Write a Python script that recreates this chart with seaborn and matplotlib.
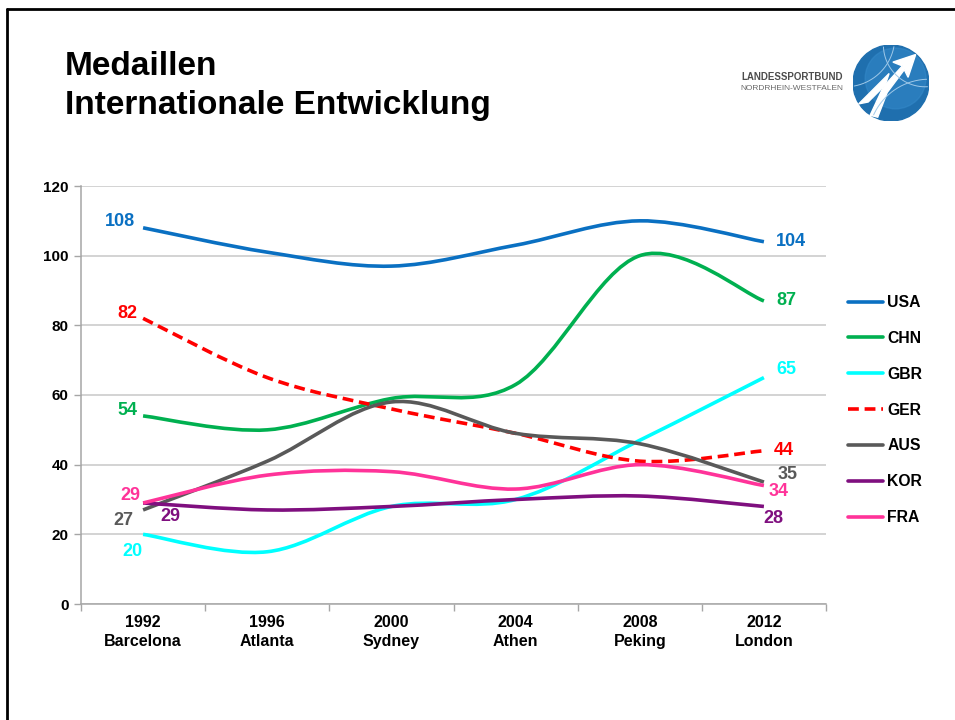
import matplotlib
matplotlib.use("Agg")
import matplotlib.pyplot as plt
import seaborn as sns
import numpy as np
import pandas as pd
from matplotlib.path import Path
from matplotlib.patches import PathPatch, Circle, Polygon
from matplotlib.lines import Line2D

# Daten (Medaillen je Spiele)
spiele = ["1992\nBarcelona", "1996\nAtlanta", "2000\nSydney", "2004\nAthen",
          "2008\nPeking", "2012\nLondon"]
laender = ["USA", "CHN", "GBR", "GER", "AUS", "KOR", "FRA"]
usa = [108, 101, 97, 103, 110, 104]
chn = [54, 50, 59, 63, 100, 87]
gbr = [20, 15, 28, 30, 47, 65]
ger = [82, 65, 56, 49, 41, 44]
aus = [27, 41, 58, 49, 46, 35]
kor = [29, 27, 28, 30, 31, 28]
fra = [29, 37, 38, 33, 40, 34]

farben = {"USA": "#0a70c2", "CHN": "#00b050", "GBR": "#00ffff", "GER": "#ff0000",
          "AUS": "#595959", "KOR": "#7f0f7f", "FRA": "#ff3399"}

# Versatz der Beschriftungen (Pixel) am Anfang und Ende
start_off = {"USA": (-23, 6), "CHN": (-16, 5), "GBR": (-11, -17), "GER": (-16, 5),
             "AUS": (-20, -11), "KOR": (27, -14), "FRA": (-13, 7)}
ende_off = {"USA": (27, 0), "CHN": (22, 0), "GBR": (22, 8), "GER": (20, 0),
            "AUS": (24, 8), "KOR": (9, -12), "FRA": (15, -6)}

df = pd.DataFrame({"USA": usa, "CHN": chn, "GBR": gbr, "GER": ger,
                   "AUS": aus, "KOR": kor, "FRA": fra}, index=spiele)

sns.set_theme(style="white")
plt.rcParams["font.family"] = ["Liberation Sans", "DejaVu Sans"]
plt.rcParams["text.color"] = "black"


def glatt(xs, ys):
    # geglaettete Linie wie in Excel (Bezier durch die Datenpunkte)
    p = np.column_stack([xs, ys]).astype(float)
    n = len(p)
    verts = [p[0]]
    codes = [Path.MOVETO]
    for i in range(n - 1):
        p0 = p[i - 1] if i > 0 else p[i]
        p3 = p[i + 2] if i + 2 < n else p[i + 1]
        c1 = p[i] + (p[i + 1] - p0) / 6
        c2 = p[i + 1] - (p3 - p[i]) / 6
        verts += [c1, c2, p[i + 1]]
        codes += [Path.CURVE4] * 3
    return Path(verts, codes)


fig = plt.figure(figsize=(9.55, 7.2), dpi=100)
ax = fig.add_axes([81 / 955, 116 / 720, 745 / 955, 418 / 720])

xpos = np.arange(len(spiele)) + 0.5
handles = []
for land in laender:
    werte = df[land].values
    ls = (0, (3, 1.6)) if land == "GER" else "-"
    patch = PathPatch(glatt(xpos, werte), fill=False, edgecolor=farben[land],
                      lw=2.6, linestyle=ls, capstyle="butt", zorder=3)
    ax.add_patch(patch)
    handles.append(Line2D([], [], color=farben[land], lw=2.6, linestyle=ls))
    ax.annotate(str(werte[0]), (xpos[0], werte[0]), xytext=start_off[land],
                textcoords="offset pixels", ha="center", va="center",
                color=farben[land], fontsize=13, fontweight="bold")
    ax.annotate(str(werte[-1]), (xpos[-1], werte[-1]), xytext=ende_off[land],
                textcoords="offset pixels", ha="center", va="center",
                color=farben[land], fontsize=13, fontweight="bold")

ax.set_xlim(0, len(spiele))
ax.set_ylim(0, 120)
ax.set_yticks(range(0, 121, 20))
ax.set_xticks(range(len(spiele) + 1))
ax.set_xticklabels([])
ax.set_xticks(xpos, spiele, minor=True)
ax.tick_params(axis="x", which="major", length=5, width=1, color="#a6a6a6",
               direction="out", bottom=True)
ax.tick_params(axis="x", which="minor", length=0, pad=8, labelsize=11.5)
ax.tick_params(axis="y", length=5, width=1, color="#a6a6a6", direction="out",
               left=True, pad=4, labelsize=11)
for lab in ax.get_xticklabels(minor=True) + ax.get_yticklabels():
    lab.set_fontweight("bold")
    lab.set_color("black")
    lab.set_linespacing(1.3)
ax.grid(axis="y", color="#c8c8c8", lw=1.1)
ax.set_axisbelow(True)
for s in ["top", "right"]:
    ax.spines[s].set_visible(False)
for s in ["left", "bottom"]:
    ax.spines[s].set_color("#a6a6a6")
    ax.spines[s].set_linewidth(1.1)

leg = fig.legend(handles, laender, loc="upper left",
                 bbox_to_anchor=(848 / 955, 1 - 295 / 720), frameon=False,
                 handlelength=2.2, handletextpad=0.3, labelspacing=1.33,
                 borderpad=0, borderaxespad=0, prop={"size": 11.3, "weight": "bold"})

# Titel
fig.text(65 / 955, 1 - 75 / 720, "Medaillen", fontsize=24, fontweight="bold",
         color="black", va="baseline", ha="left")
fig.text(65 / 955, 1 - 114 / 720, "Internationale Entwicklung", fontsize=24,
         color="black", fontweight="bold", va="baseline", ha="left")

# Logo
fig.text(843 / 955, 1 - 77 / 720, "LANDESSPORTBUND", fontsize=7, color="#4d4d4d",
         fontweight="bold", ha="right", va="center")
fig.text(843 / 955, 1 - 89 / 720, "NORDRHEIN-WESTFALEN", fontsize=6.0,
         color="#6a6a6a", ha="right", va="center")
lax = fig.add_axes([853 / 955, 1 - 121 / 720, 76 / 955, 76 / 720])
lax.set_xlim(-1, 1)
lax.set_ylim(-1, 1)
lax.set_aspect("equal")
lax.axis("off")
lax.add_patch(Circle((0, 0), 1.0, color="#1f6fae"))
lax.add_patch(Circle((0.12, 0.12), 0.8, color="#3388c8", alpha=0.6))
for r, c in [(1.3, (-1.2, 1.2)), (1.6, (1.0, -1.5)), (1.1, (0.9, 1.0))]:
    t = np.linspace(0, 2 * np.pi, 200)
    xx = c[0] + r * np.cos(t)
    yy = c[1] + r * np.sin(t)
    m = xx ** 2 + yy ** 2 < 0.97
    lax.plot(np.where(m, xx, np.nan), np.where(m, yy, np.nan), color="#9fc8e8", lw=0.7)
lax.add_patch(Polygon([(-0.55, -0.85), (-0.2, -0.1), (0.3, 0.45), (0.05, 0.55),
                       (0.65, 0.75), (0.45, 0.15), (0.35, 0.35), (-0.1, -0.25),
                       (-0.35, -0.9)], closed=True, color="white"))
lax.add_patch(Polygon([(-0.85, -0.55), (-0.45, -0.15), (-0.05, 0.25), (-0.15, -0.05),
                       (-0.6, -0.5)], closed=True, color="white"))

# Rahmen
fig.add_artist(Line2D([7 / 955, 1], [1 - 9 / 720, 1 - 9 / 720], color="black",
                      lw=2, transform=fig.transFigure))
fig.add_artist(Line2D([7 / 955, 7 / 955], [0, 1 - 9 / 720], color="black",
                      lw=2, transform=fig.transFigure))

fig.savefig("out.png", dpi=100)
